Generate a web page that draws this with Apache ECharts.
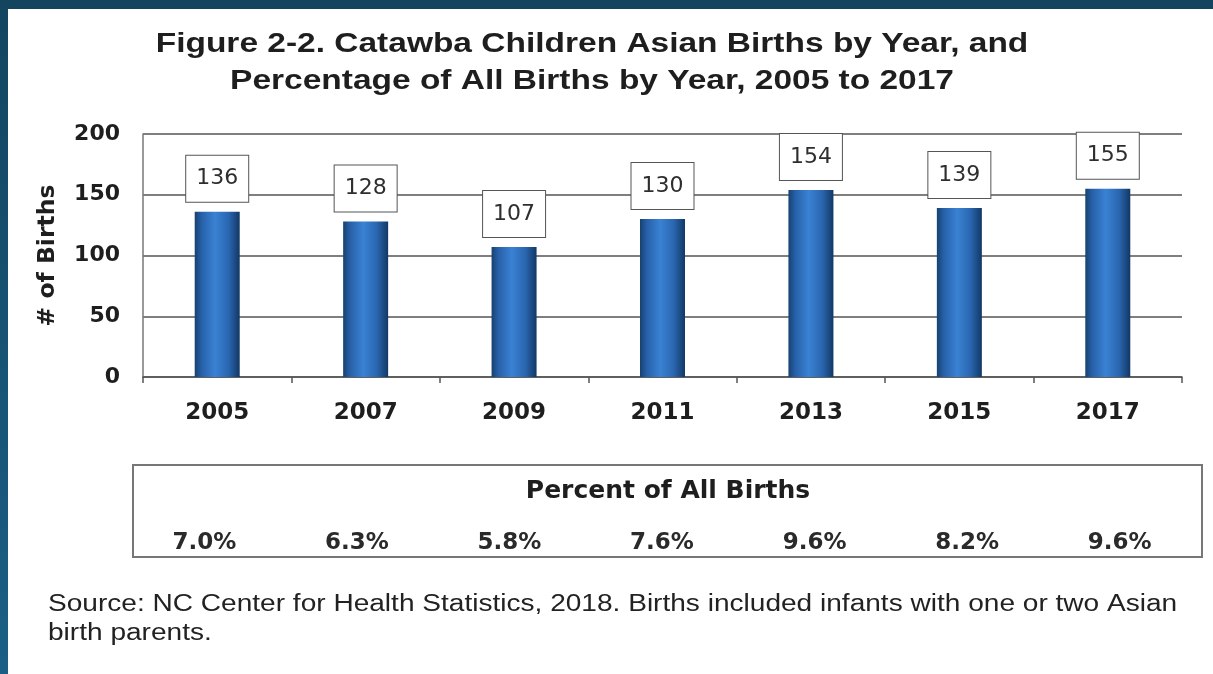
<!DOCTYPE html>
<html>
<head>
<meta charset="utf-8">
<script src="https://cdn.jsdelivr.net/npm/echarts@6/dist/echarts.min.js"></script>
<style>
html,body{margin:0;padding:0;background:#fff;}
#c{width:1213px;height:674px;}
</style>
</head>
<body>
<div id="c"></div>
<script>
var years = ['2005', '2007', '2009', '2011', '2013', '2015', '2017'];
var births = [136, 128, 107, 130, 154, 139, 155];
var percents = ['7.0%', '6.3%', '5.8%', '7.6%', '9.6%', '8.2%', '9.6%'];
var titleText = 'Figure 2-2. Catawba Children Asian Births by Year, and\nPercentage of All Births by Year, 2005 to 2017';
var tableTitle = 'Percent of All Births';
var sourceText = 'Source: NC Center for Health Statistics, 2018. Births included infants with one or two Asian\nbirth parents.';

var chart = echarts.init(document.getElementById('c'), null, {renderer: 'canvas'});
var bold = 'DejaVu Sans';
var option = {
  backgroundColor: '#ffffff',
  animation: false,
  grid: [
    {left: 143, right: 31, top: 134, height: 243},
    {left: 128, right: 17, top: 470, height: 50}
  ],
  xAxis: [
    {
      type: 'category', data: years, gridIndex: 0,
      axisLine: {lineStyle: {color: '#555', width: 1.5}},
      axisTick: {show: true, length: 6, lineStyle: {color: '#555', width: 1.5}},
      axisLabel: {fontFamily: bold, fontWeight: 'bold', fontSize: 23, color: '#1e1e1e', margin: 25}
    },
    {
      type: 'category', data: percents, gridIndex: 1,
      axisLine: {show: false}, axisTick: {show: false},
      axisLabel: {fontFamily: bold, fontWeight: 'bold', fontSize: 23, color: '#2a2a2a', margin: 12}
    }
  ],
  yAxis: [
    {
      type: 'value', min: 0, max: 200, interval: 50, gridIndex: 0,
      name: '# of Births', nameLocation: 'middle', nameGap: 83, nameRotate: 90,
      nameTextStyle: {fontFamily: bold, fontWeight: 'bold', fontSize: 23.5, color: '#1e1e1e'},
      axisLine: {show: true, lineStyle: {color: '#777', width: 1.5}},
      axisTick: {show: false},
      axisLabel: {fontFamily: bold, fontWeight: 'bold', fontSize: 22, color: '#1e1e1e', margin: 23},
      splitLine: {lineStyle: {color: '#555', width: 1.5}}
    },
    {type: 'value', gridIndex: 1, show: false}
  ],
  series: [{
    type: 'bar', data: births, xAxisIndex: 0, yAxisIndex: 0, barWidth: 45,
    itemStyle: {
      color: new echarts.graphic.LinearGradient(0, 0, 1, 0, [
        {offset: 0, color: '#17416f'},
        {offset: 0.15, color: '#2760a8'},
        {offset: 0.45, color: '#3a82d4'},
        {offset: 0.75, color: '#2a66b0'},
        {offset: 1, color: '#123865'}
      ])
    },
    label: {
      show: true, position: 'top', distance: 10,
      fontFamily: 'DejaVu Sans', fontSize: 22, color: '#2e2e2e',
      backgroundColor: '#fff', borderColor: '#555', borderWidth: 1,
      padding: [12, 10, 12, 10]
    }
  }],
  graphic: [
    {type: 'rect', shape: {x: 0, y: 0, width: 1213, height: 9}, style: {fill: '#13455f'}, z: 10},
    {type: 'rect', shape: {x: 0, y: 0, width: 8, height: 674},
      style: {fill: new echarts.graphic.LinearGradient(0, 0, 0, 1, [
        {offset: 0, color: '#13455f'}, {offset: 1, color: '#1b5f86'}])}, z: 10},
    {type: 'text', x: 592, y: 26, scaleX: 1.24,
      style: {text: titleText, fontFamily: 'Liberation Sans', fontWeight: 'bold', fontSize: 27, lineHeight: 37,
        fill: '#1e1e1e', textAlign: 'center'}},
    {type: 'rect', shape: {x: 133, y: 465, width: 1069, height: 92},
      style: {fill: 'none', stroke: '#777', lineWidth: 2}},
    {type: 'text', x: 668, y: 491,
      style: {text: tableTitle, fontFamily: bold, fontWeight: 'bold', fontSize: 25, fill: '#1e1e1e',
        textAlign: 'center', textVerticalAlign: 'middle'}},
    {type: 'text', x: 48, y: 590, scaleX: 1.22,
      style: {text: sourceText, fontFamily: 'Liberation Sans', fontSize: 23, lineHeight: 29, fill: '#222'}}
  ]
};
chart.setOption(option);
</script>
</body>
</html>
